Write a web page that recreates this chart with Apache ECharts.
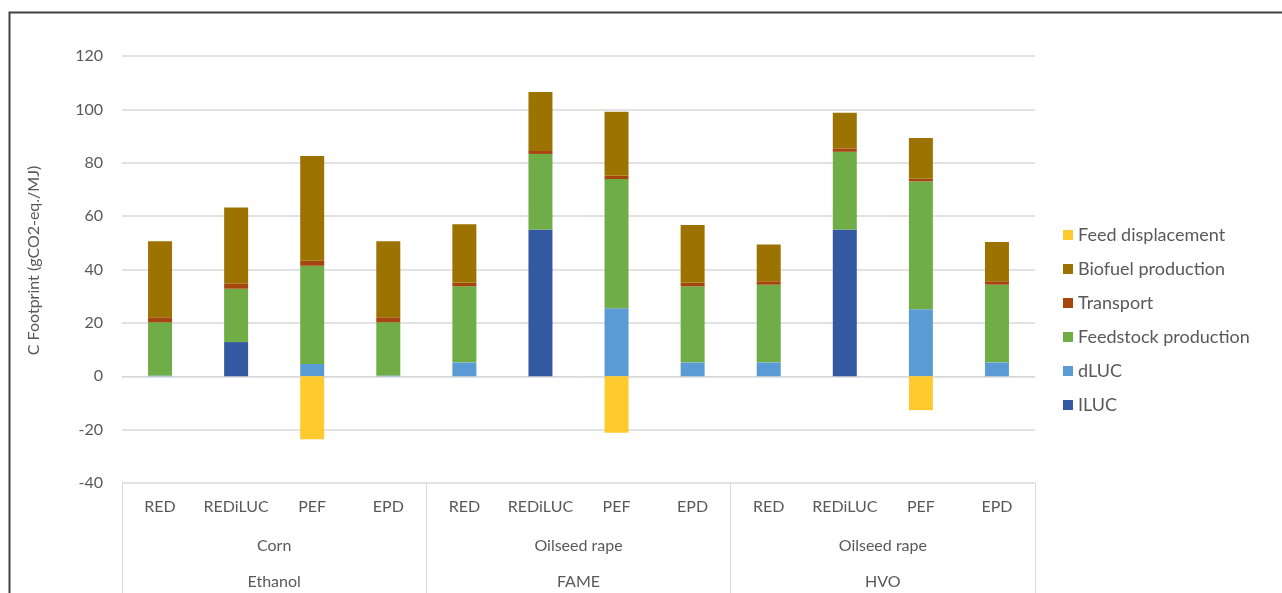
<!DOCTYPE html>
<html>
<head>
<meta charset="utf-8">
<script src="https://cdn.jsdelivr.net/npm/echarts@6/dist/echarts.min.js"></script>
<style>
html,body{margin:0;padding:0;background:#fff;}
#chart{width:1282px;height:593px;}
</style>
</head>
<body>
<div id="chart"></div>
<script>
// ---- data ----
var methods = ['RED','REDiLUC','PEF','EPD','RED','REDiLUC','PEF','EPD','RED','REDiLUC','PEF','EPD'];
var feedstocks = ['Corn','Oilseed rape','Oilseed rape'];
var fuels = ['Ethanol','FAME','HVO'];
var yTicks = {min:-40, max:120, step:20};

var iluc      = [null, 12.8, null, null, null, 55.0, null, null, null, 55.0, null, null];
var dluc      = [0.3, null, 4.6, 0.3, 5.2, null, 25.5, 5.2, 5.2, null, 25.1, 5.2];
var feedstock = [19.9, 20.0, 36.8, 19.9, 28.5, 28.3, 48.4, 28.5, 29.1, 29.1, 47.9, 29.1];
var transport = [1.9, 1.9, 1.9, 1.9, 1.3, 1.1, 1.2, 1.3, 1.3, 1.3, 1.0, 1.3];
var biofuel   = [28.5, 28.5, 39.2, 28.5, 22.0, 22.1, 24.0, 21.7, 13.8, 13.3, 15.3, 14.7];
var feedDisp  = [null, null, -23.6, null, null, null, -21.2, null, null, null, -12.7, null];

var FONT = 'Lato';
var TXT = '#595959';
var LINE = '#d9d9d9';

function bar(name, data, color){
  return {name:name, type:'bar', stack:'total', barWidth:24, data:data,
          itemStyle:{color:color}, emphasis:{disabled:true}};
}

var chart = echarts.init(document.getElementById('chart'));
chart.setOption({
  animation:false,
  backgroundColor:'#fff',
  textStyle:{fontFamily:FONT},
  grid:{left:122, right:247, top:56, bottom:110, containLabel:false},
  legend:{
    orient:'vertical', left:1058, top:221, itemGap:16,
    itemWidth:10, itemHeight:10, icon:'rect',
    textStyle:{color:TXT, fontSize:18, fontFamily:FONT},
    data:['Feed displacement','Biofuel production','Transport','Feedstock production','dLUC','ILUC']
  },
  xAxis:[
    {type:'category', data:methods, position:'bottom',
     axisLine:{show:true, lineStyle:{color:LINE, width:1}},
     axisTick:{show:false},
     axisLabel:{color:TXT, fontSize:16, margin:16, interval:0, fontFamily:FONT}},
    {type:'category', data:feedstocks, position:'bottom',
     axisLine:{show:false},
     axisTick:{show:true, length:110, interval:0, lineStyle:{color:LINE, width:1}},
     axisLabel:{color:TXT, fontSize:16, margin:55, interval:0, fontFamily:FONT}},
    {type:'category', data:fuels, position:'bottom',
     axisLine:{show:false}, axisTick:{show:false},
     axisLabel:{color:TXT, fontSize:16, margin:91, interval:0, fontFamily:FONT}}
  ],
  yAxis:{
    type:'value', min:yTicks.min, max:yTicks.max, interval:yTicks.step,
    name:'C Footprint (gCO2-eq./MJ)', nameLocation:'middle', nameGap:80, nameRotate:90,
    nameTextStyle:{color:TXT, fontSize:16, fontFamily:FONT, padding:[0,0,0,18]},
    axisLine:{show:false}, axisTick:{show:false},
    axisLabel:{color:TXT, fontSize:16, margin:19, fontFamily:FONT},
    splitLine:{lineStyle:{color:LINE, width:1.5}}
  },
  series:[
    bar('ILUC', iluc, '#335AA1'),
    bar('dLUC', dluc, '#5B9BD5'),
    bar('Feedstock production', feedstock, '#71AD47'),
    bar('Transport', transport, '#A5460F'),
    bar('Biofuel production', biofuel, '#9C7300'),
    bar('Feed displacement', feedDisp, '#FFCA2E')
  ],
  graphic:[
    {type:'rect', left:7, top:10, silent:true,
     shape:{width:1400, height:700},
     style:{fill:null, stroke:'#404040', lineWidth:2}}
  ]
});
</script>
</body>
</html>
